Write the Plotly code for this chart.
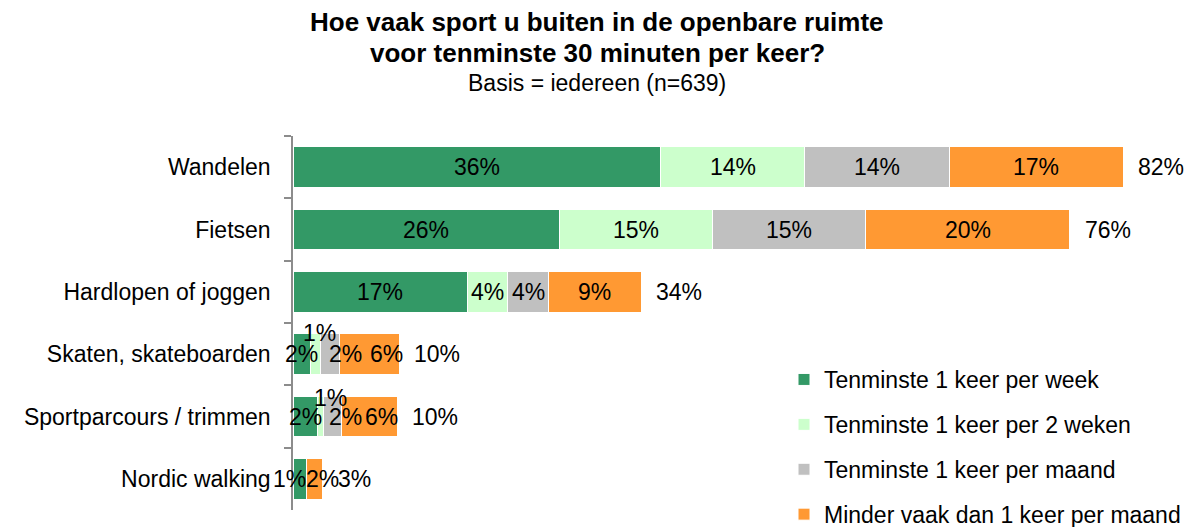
import plotly.graph_objects as go

categories = ["Wandelen", "Fietsen", "Hardlopen of joggen", "Skaten, skateboarden",
              "Sportparcours / trimmen", "Nordic walking"]
series_names = ["Tenminste 1 keer per week", "Tenminste 1 keer per 2 weken",
                "Tenminste 1 keer per maand", "Minder vaak dan 1 keer per maand"]
week = [35.9, 26.0, 17.0, 1.7, 2.4, 1.3]
two_weeks = [14.1, 15.0, 4.0, 1.0, 0.6, 0.0]
month = [14.1, 14.9, 4.0, 1.8, 1.7, 0.0]
less = [17.0, 20.0, 9.0, 5.9, 5.5, 1.6]
totals = [82, 76, 34, 10, 10, 3]

series = [week, two_weeks, month, less]
colors = ["#339966", "#CCFFCC", "#C0C0C0", "#FF9933"]

FONT = "Liberation Sans, Arial, sans-serif"
FS = 23
OFF = 8  # page body margin of the html page
W, H = 1196 - OFF, 527 - OFF
# plot area in screen pixels: x 293..1163, y 136..510
ML, MT = 293 - OFF, 136 - OFF
MR, MB = (1196 - 1163), (527 - 510)
PW, PH = W - ML - MR, H - MT - MB

def screen_to_paper(sx, sy):
    fx, fy = sx - OFF, sy - OFF
    return (fx - ML) / PW, (H - MB - fy) / PH

fig = go.Figure()
for name, vals, col in zip(series_names, series, colors):
    fig.add_trace(go.Bar(
        y=categories, x=vals, name=name, orientation="h",
        marker=dict(color=col, line=dict(color="white", width=1)),
        hoverinfo="x+name", legendgroup=name,
    ))

# manual label shifts (x px, y px; +y = up) per (row, series) as in the reference
shifts = {
    (3, 1): (4, 21), (3, 2): (16, 0), (3, 3): (17, 0),
    (4, 1): (10, 19), (4, 2): (13, 0), (4, 3): (12, 0),
    (5, 0): (-10, 0), (5, 3): (8, 0),
}

annotations = []
for r, cat in enumerate(categories):
    cum = 0.0
    for s, vals in enumerate(series):
        v = vals[r]
        if v > 0:
            dx, dy = shifts.get((r, s), (0, 0))
            annotations.append(dict(
                x=cum + v / 2, y=cat, xref="x", yref="y", text=f"{round(v)}%",
                showarrow=False, xshift=dx, yshift=dy,
                font=dict(family=FONT, size=FS, color="black")))
        cum += v
    annotations.append(dict(
        x=cum, y=cat, xref="x", yref="y", text=f"{totals[r]}%",
        showarrow=False, xanchor="left", xshift=13,
        font=dict(family=FONT, size=FS, color="black")))

for txt, sy, bold in [("Hoe vaak sport u buiten in de openbare ruimte", 22, True),
                      ("voor tenminste 30 minuten per keer?", 53, True),
                      ("Basis = iedereen (n=639)", 83, False)]:
    ax, ay = screen_to_paper(597, sy)
    annotations.append(dict(
        text=f"<b>{txt}</b>" if bold else txt,
        x=ax, y=ay, xref="paper", yref="paper",
        xanchor="center", yanchor="middle", showarrow=False,
        font=dict(family=FONT, size=26 if bold else FS, color="black")))

fig.update_layout(
    width=W, height=H,
    margin=dict(l=ML, r=MR, t=MT, b=MB, autoexpand=False),
    paper_bgcolor="white", plot_bgcolor="white",
    barmode="stack", bargap=0.344,
    font=dict(family=FONT, size=FS, color="black"),
    showlegend=True,
    legend=dict(x=(784 - OFF) / W, y=(H - (358 - OFF)) / H, xref="container", yref="container",
                xanchor="left", yanchor="top", tracegroupgap=12,
                font=dict(family=FONT, size=FS, color="black"),
                bgcolor="rgba(0,0,0,0)"),
    xaxis=dict(range=[0, 85], visible=False, fixedrange=True),
    yaxis=dict(autorange="reversed", type="category", showline=True, linecolor="#8c8c8c",
               linewidth=1.5, ticks="outside", ticklen=7, tickcolor="#8c8c8c", tickwidth=1.5,
               tickson="boundaries", ticklabelstandoff=16, showgrid=False,
               tickfont=dict(family=FONT, size=FS, color="black")),
    annotations=annotations,
)

fig.write_html("out.html")
